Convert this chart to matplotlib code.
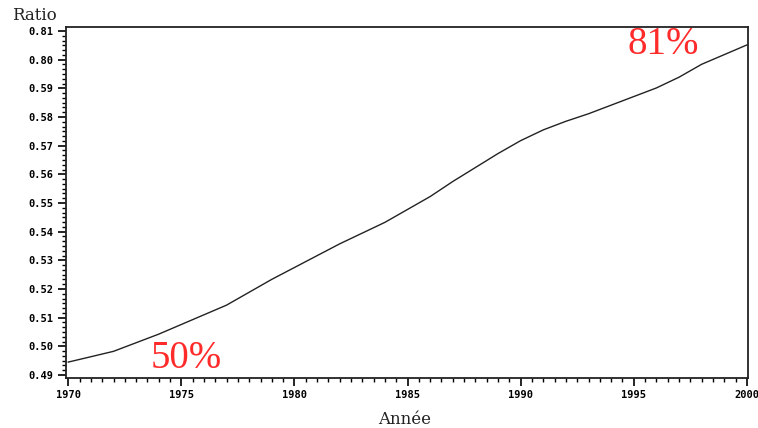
import matplotlib
matplotlib.use("Agg")
import matplotlib.pyplot as plt
import numpy as np
from matplotlib.ticker import MultipleLocator, FixedLocator

# values
years = list(range(1970, 2001))
ratio = [0.502, 0.507, 0.512, 0.520, 0.528, 0.537, 0.546, 0.555, 0.567, 0.579,
         0.590, 0.601, 0.612, 0.622, 0.632, 0.644, 0.656, 0.670, 0.683, 0.696,
         0.708, 0.718, 0.726, 0.733, 0.741, 0.749, 0.757, 0.767, 0.779, 0.788,
         0.797]

# y tick labels exactly as printed on the original (13 evenly spaced ticks)
ytick_labels = ["0.49", "0.50", "0.51", "0.52", "0.53", "0.54", "0.55",
                "0.56", "0.57", "0.58", "0.59", "0.80", "0.81"]
ytick_pos = np.linspace(0.49, 0.81, len(ytick_labels))
xtick_years = [1970, 1975, 1980, 1985, 1990, 1995, 2000]

fig = plt.figure(figsize=(7.58, 4.28), dpi=100)
ax = fig.add_axes([66 / 758, 50 / 428, 682 / 758, 351 / 428])

ax.plot(years, ratio, color='#222222', linewidth=1.0)

ax.set_xlim(1969.9, 2000.05)
ax.set_ylim(0.4872, 0.8137)

ax.yaxis.set_major_locator(FixedLocator(ytick_pos))
ax.set_yticklabels(ytick_labels)
step = (ytick_pos[1] - ytick_pos[0]) / 6
ax.yaxis.set_minor_locator(FixedLocator(np.arange(0.49, 0.8137, step)))
ax.xaxis.set_major_locator(FixedLocator(xtick_years))
ax.set_xticklabels([str(y) for y in xtick_years])
ax.xaxis.set_minor_locator(MultipleLocator(0.5))

tick_font = dict(family='DejaVu Sans Mono', size=7.5, weight='bold')
for lab in ax.get_yticklabels() + ax.get_xticklabels():
    lab.set_fontproperties(matplotlib.font_manager.FontProperties(**tick_font))

ax.tick_params(which='major', direction='out', length=6, width=1.2, color='black', pad=3)
ax.tick_params(which='minor', direction='out', length=3, width=1.0, color='black')
for s in ax.spines.values():
    s.set_linewidth(1.3)
    s.set_color('#222222')

fig.text(12 / 758, 1 - 15 / 428, "Ratio", fontsize=12, family='DejaVu Serif',
         va='center', ha='left', color='#222222')
fig.text(405 / 758, 1 - 420 / 428, "Année", fontsize=12, family='DejaVu Serif',
         va='center', ha='center', color='#222222')

ax.text(1975.2, 0.505, "50%", fontsize=28, family='Liberation Serif', color='#ff2a2a',
        ha='center', va='center')
ax.text(1996.3, 0.797, "81%", fontsize=28, family='Liberation Serif', color='#ff2a2a',
        ha='center', va='center')

fig.savefig("out.png", dpi=100)
